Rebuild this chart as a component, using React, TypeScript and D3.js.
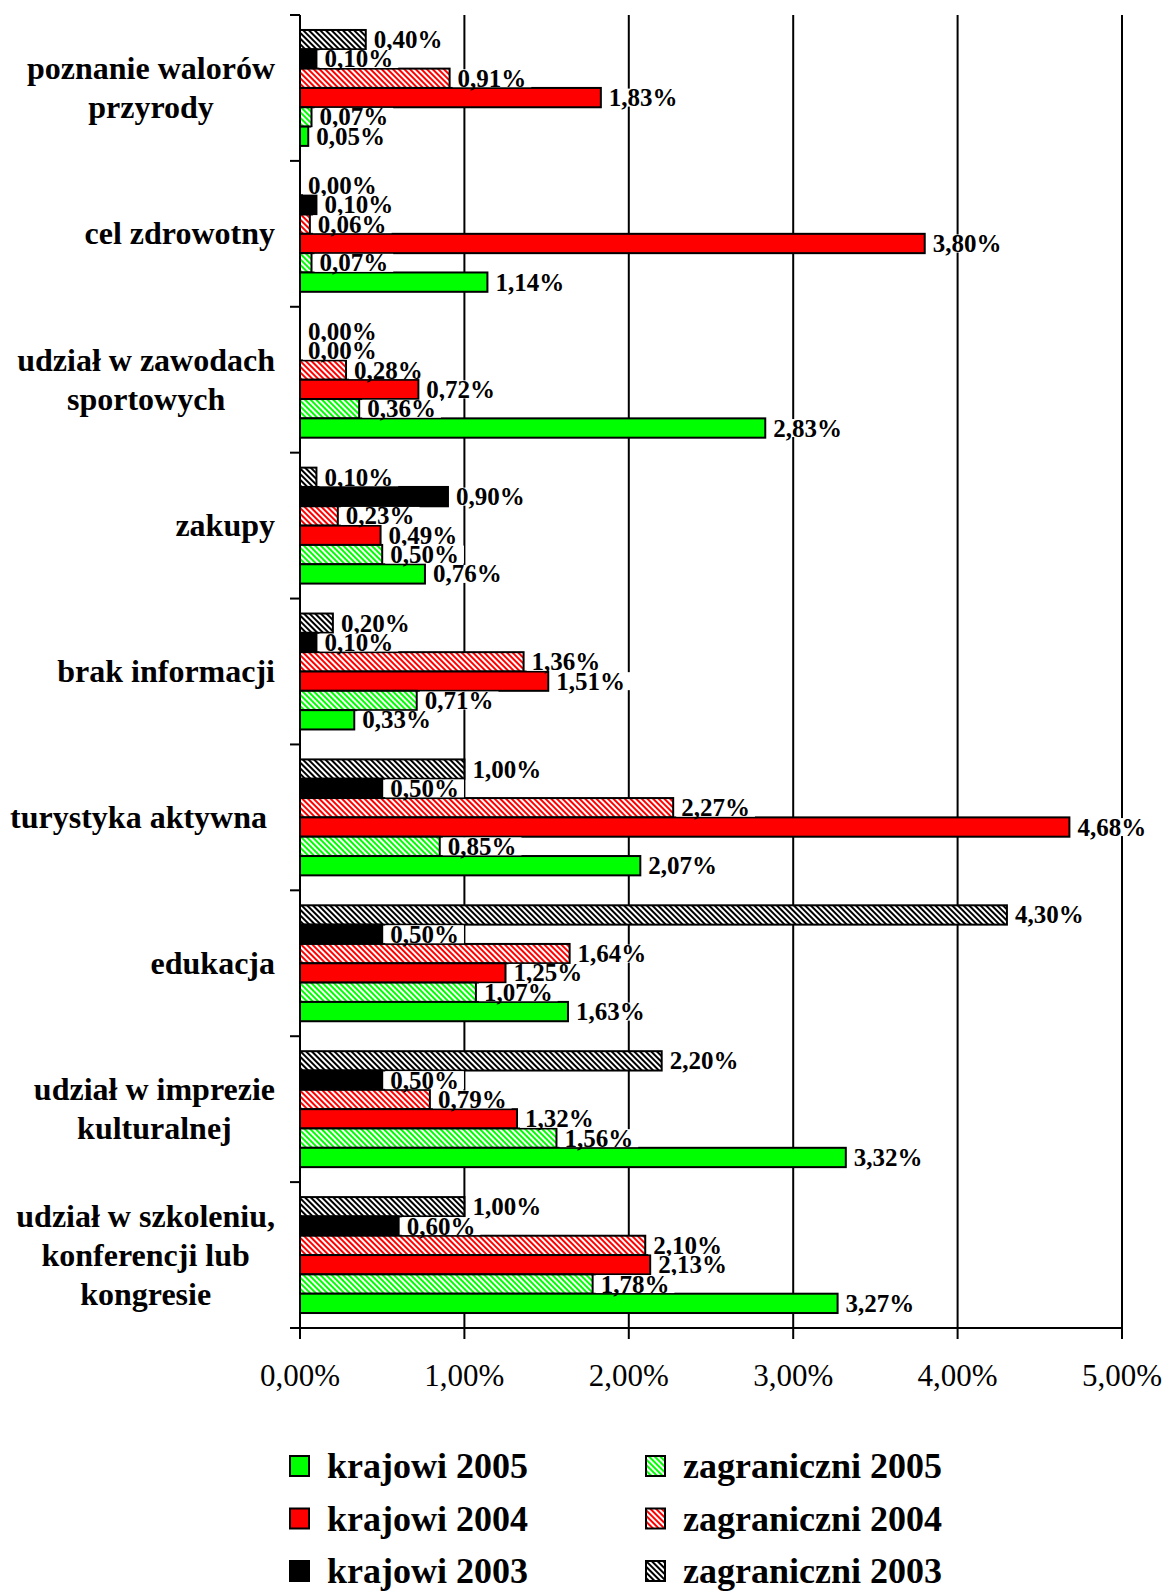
import React from "react";
import * as d3 from "d3";

const categories = [
  "poznanie walorów\nprzyrody",
  "cel zdrowotny",
  "udział w zawodach\nsportowych",
  "zakupy",
  "brak informacji",
  "turystyka aktywna ",
  "edukacja",
  "udział w imprezie\nkulturalnej",
  "udział w szkoleniu,\nkonferencji lub\nkongresie",
];

// order inside each group, top to bottom
const seriesNames = [
  "zagraniczni 2003",
  "krajowi 2003",
  "zagraniczni 2004",
  "krajowi 2004",
  "zagraniczni 2005",
  "krajowi 2005",
];

const zagr2003 = [0.4, 0.0, 0.0, 0.1, 0.2, 1.0, 4.3, 2.2, 1.0];
const kraj2003 = [0.1, 0.1, 0.0, 0.9, 0.1, 0.5, 0.5, 0.5, 0.6];
const zagr2004 = [0.91, 0.06, 0.28, 0.23, 1.36, 2.27, 1.64, 0.79, 2.1];
const kraj2004 = [1.83, 3.8, 0.72, 0.49, 1.51, 4.68, 1.25, 1.32, 2.13];
const zagr2005 = [0.07, 0.07, 0.36, 0.5, 0.71, 0.85, 1.07, 1.56, 1.78];
const kraj2005 = [0.05, 1.14, 2.83, 0.76, 0.33, 2.07, 1.63, 3.32, 3.27];

const seriesValues = [zagr2003, kraj2003, zagr2004, kraj2004, zagr2005, kraj2005];

const xTicks = [0, 1, 2, 3, 4, 5];

const legendCol1 = ["krajowi 2005", "krajowi 2004", "krajowi 2003"];
const legendCol2 = ["zagraniczni 2005", "zagraniczni 2004", "zagraniczni 2003"];

const FONT = '"Liberation Serif", "Times New Roman", serif';

const fillFor = (name: string): string => {
  const year = name.slice(-4);
  const color = year === "2005" ? "#00ff00" : year === "2004" ? "#ff0000" : "#000000";
  if (name.startsWith("zagraniczni")) return `url(#hatch${year})`;
  return color;
};

const fmt = (v: number) => d3.format(".2f")(v).replace(".", ",") + "%";

let _ctx: CanvasRenderingContext2D | null = null;
const measure = (text: string, font: string): number => {
  if (!_ctx) {
    const c = document.createElement("canvas");
    _ctx = c.getContext("2d");
  }
  if (!_ctx) return text.length * 10;
  _ctx.font = font;
  return _ctx.measureText(text).width;
};

export default function App() {
  const W = 1168;
  const H = 1592;
  const x = d3.scaleLinear().domain([0, 5]).range([300, 1122]);
  const y = d3
    .scaleBand<number>()
    .domain(d3.range(categories.length))
    .range([15, 1328])
    .paddingInner(0)
    .paddingOuter(0);
  const inner = d3
    .scaleBand<string>()
    .domain(seriesNames)
    .range([0, y.bandwidth()])
    .paddingInner(0)
    .paddingOuter(0.775);

  const bandEdges = d3.range(categories.length + 1).map((i) => 15 + i * y.step());
  const catFontSize = 32;
  const catFont = `bold ${catFontSize}px "Liberation Serif"`;
  const valFontSize = 25;
  const valFont = `bold ${valFontSize}px "Liberation Serif"`;

  const hatchColors: [string, string][] = [
    ["2005", "#00ff00"],
    ["2004", "#ff0000"],
    ["2003", "#000000"],
  ];

  return (
    <svg
      width={W}
      height={H}
      style={{ position: "absolute", left: 0, top: 0, background: "#fff" }}
      fontFamily={FONT}
    >
      <defs>
        {hatchColors.map(([yr, col]) => (
          <pattern
            key={yr}
            id={`hatch${yr}`}
            patternUnits="userSpaceOnUse"
            width={4}
            height={4}
            patternTransform="rotate(-45)"
          >
            <rect width={4} height={4} fill="#fff" />
            <rect width={2} height={4} fill={col} />
          </pattern>
        ))}
      </defs>
      <rect x={0} y={0} width={W} height={H} fill="#fff" />

      {/* vertical gridlines and x ticks */}
      {xTicks.map((t) => (
        <line
          key={`g${t}`}
          x1={x(t)}
          x2={x(t)}
          y1={15}
          y2={1339}
          stroke="#000"
          strokeWidth={2}
        />
      ))}
      {/* x axis */}
      <line x1={290} x2={x(5)} y1={1328} y2={1328} stroke="#000" strokeWidth={2} />
      {/* y ticks */}
      {bandEdges.map((e, i) => (
        <line key={`yt${i}`} x1={290} x2={x(0)} y1={e} y2={e} stroke="#000" strokeWidth={2} />
      ))}

      {/* x tick labels */}
      {xTicks.map((t) => (
        <text
          key={`tl${t}`}
          x={x(t)}
          y={1386}
          textAnchor="middle"
          fontSize={31}
          fill="#000"
        >
          {fmt(t)}
        </text>
      ))}

      {/* category labels */}
      {categories.map((c, i) => {
        const lines = c.split("\n");
        const widths = lines.map((l) => measure(l, catFont));
        const maxW = Math.max(...widths);
        const cx = 275 - maxW / 2;
        const center = (y(i) as number) + y.bandwidth() / 2;
        return lines.map((l, k) => (
          <text
            key={`c${i}-${k}`}
            x={cx - widths[k] / 2}
            y={center + (k - (lines.length - 1) / 2) * 39 + 10.5}
            fontSize={catFontSize}
            fontWeight="bold"
            fill="#000"
            style={{ whiteSpace: "pre" }}
          >
            {l}
          </text>
        ));
      })}

      {/* bars */}
      {categories.map((c, i) =>
        seriesNames.map((s, j) => {
          const v = seriesValues[j][i];
          if (v <= 0) return null;
          const y0 = (y(i) as number) + (inner(s) as number);
          return (
            <rect
              key={`b${i}-${j}`}
              x={x(0)}
              y={y0}
              width={x(v) - x(0)}
              height={inner.bandwidth()}
              fill={fillFor(s)}
              stroke="#000"
              strokeWidth={2}
            />
          );
        })
      )}

      {/* value labels */}
      {categories.map((c, i) =>
        seriesNames.map((s, j) => {
          const v = seriesValues[j][i];
          const y0 = (y(i) as number) + (inner(s) as number);
          const cy = y0 + inner.bandwidth() / 2;
          const label = fmt(v);
          const tw = measure(label, valFont);
          const xe = x(v);
          return (
            <g key={`l${i}-${j}`}>
              <rect x={xe + 3} y={cy - 9} width={tw + 10} height={18} fill="#fff" />
              <text x={xe + 8} y={cy + 8.5} fontSize={valFontSize} fontWeight="bold" fill="#000">
                {label}
              </text>
            </g>
          );
        })
      )}

      {/* legend */}
      {[legendCol1, legendCol2].map((col, ci) =>
        col.map((name, ri) => {
          const sx = ci === 0 ? 290 : 646;
          const base = 1478 + ri * 52.5;
          return (
            <g key={`lg${ci}-${ri}`}>
              <rect
                x={sx}
                y={base - 22}
                width={19}
                height={20}
                fill={fillFor(name)}
                stroke="#000"
                strokeWidth={2}
              />
              <text x={sx + 37} y={base} fontSize={36} fontWeight="bold" fill="#000">
                {name}
              </text>
            </g>
          );
        })
      )}
    </svg>
  );
}
